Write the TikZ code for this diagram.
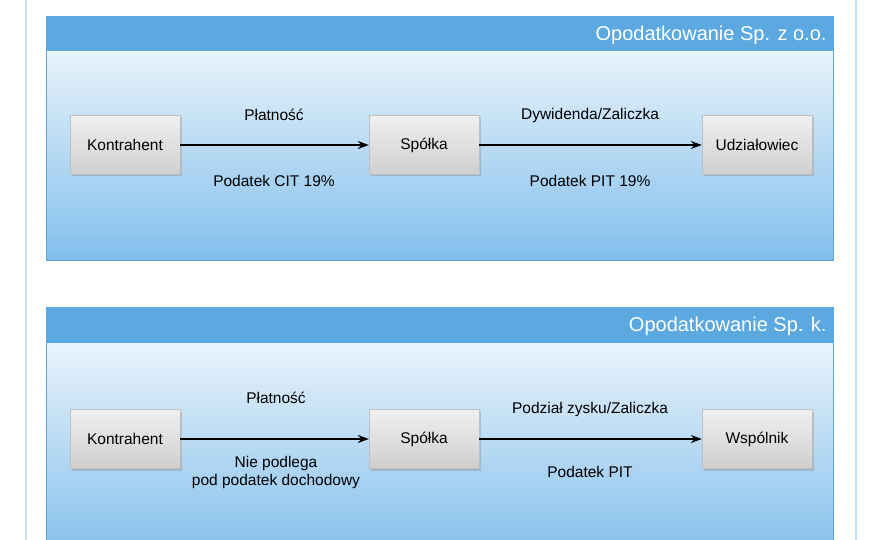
\documentclass[tikz,border=0pt]{standalone}
\usepackage{fontspec}
\setmainfont{Liberation Sans}
\usetikzlibrary{shadows,arrows.meta}
\definecolor{hd}{RGB}{92,168,224}
\definecolor{btop}{RGB}{232,243,251}
\definecolor{bbot}{RGB}{130,190,236}
\definecolor{frm}{RGB}{200,222,245}
\begin{document}
\begin{tikzpicture}[x=1pt,y=-1pt,
  bx/.style={draw=gray!50,top color=gray!12,bottom color=gray!38,minimum width=110pt,minimum height=59pt,font=\fontsize{15.5}{17}\selectfont,drop shadow={opacity=0.35,shadow xshift=2pt,shadow yshift=-2pt}},
  lbl/.style={font=\fontsize{15.5}{18}\selectfont},
  hdr/.style={font=\fontsize{20}{22}\selectfont,text=white,anchor=east},
  ar/.style={-{Stealth[length=11pt,width=8pt]},line width=1.3pt}]
\useasboundingbox (0,0) rectangle (880,540);
\fill[white] (0,0) rectangle (880,540);
\draw[frm,line width=1.5pt] (26,0) -- (26,540) (856,0) -- (856,540);
% panel 1
\shade[top color=btop,bottom color=bbot] (46,51) rectangle (833,260);
\fill[hd] (46,16) rectangle (833,51);
\draw[hd] (46,16) rectangle (833,260);
\node[hdr] (h1) at (830,35) {Opodatkowanie Sp. z o.o.};
\node[bx] (k1) at (125,145) {Kontrahent};
\node[bx] (s1) at (424,145) {Spółka};
\node[bx] (u1) at (757,145) {Udziałowiec};
\draw[ar] (k1) -- (s1);
\draw[ar] (s1) -- (u1);
\node[lbl] (p1) at (274,115) {Płatność};
\node[lbl] (c1) at (274,181) {Podatek CIT 19\%};
\node[lbl] (d1) at (590,115) {Dywidenda/Zaliczka};
\node[lbl] (t1) at (590,181) {Podatek PIT 19\%};
% panel 2
\shade[top color=btop,bottom color=bbot] (46,343) rectangle (833,560);
\fill[hd] (46,307) rectangle (833,343);
\draw[hd] (46,307) rectangle (833,560);
\node[hdr] (h2) at (830,326) {Opodatkowanie Sp. k.};
\node[bx] (k2) at (125,439) {Kontrahent};
\node[bx] (s2) at (424,439) {Spółka};
\node[bx] (w2) at (757,439) {Wspólnik};
\draw[ar] (k2) -- (s2);
\draw[ar] (s2) -- (w2);
\node[lbl] (p2) at (276,398) {Płatność};
\node[lbl,align=center] (n2) at (276,472) {Nie podlega\\pod podatek dochodowy};
\node[lbl] (z2) at (590,409) {Podział zysku/Zaliczka};
\node[lbl] (t2) at (590,472) {Podatek PIT};
\end{tikzpicture}
\end{document}
